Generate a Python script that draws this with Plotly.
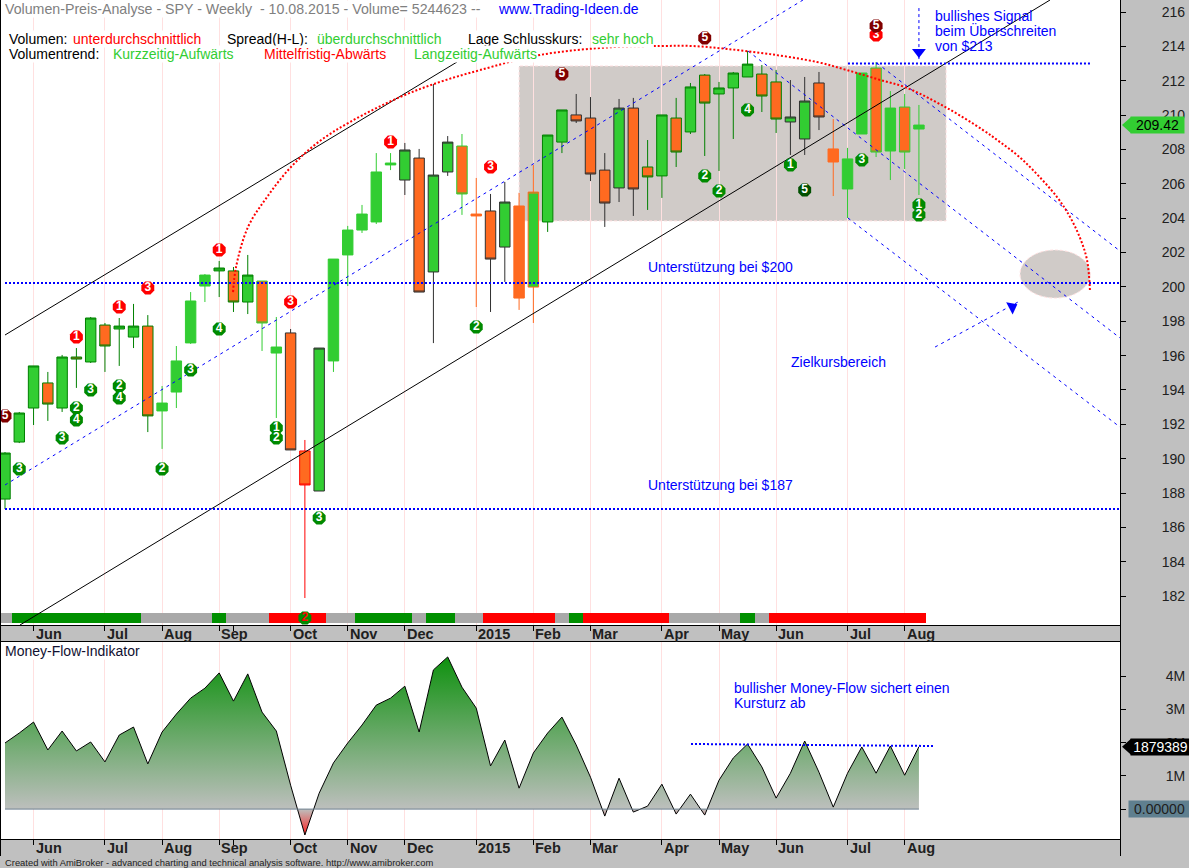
# SPY weekly chart - volume / price analysis with money flow panel

import plotly.graph_objects as go

W = 1189
H = 868

# WEEKLY BARS #
opens = [187.65, 190.97, 192.95, 194.41, 192.95, 195.92, 195.63, 197.78, 197.55, 197.08, 197.72, 192.78, 193.88, 196.74, 200.05, 200.93, 200.93, 199.12, 200.34, 196.15, 197.32, 190.45, 188.12, 195.69, 201.86, 203.31, 203.78, 207.10, 206.22, 207.50, 200.87, 206.69, 208.20, 204.24, 204.42, 202.32, 204.71, 199.99, 203.78, 208.43, 210.01, 209.83, 206.80, 205.76, 210.41, 206.98, 206.46, 209.83, 209.02, 212.33, 211.23, 211.58, 212.22, 212.39, 211.93, 209.60, 208.61, 211.87, 208.03, 205.70, 208.90, 212.74, 207.91, 210.47, 209.19]
closes = [190.33, 192.66, 195.40, 193.18, 195.92, 195.80, 198.19, 196.56, 197.72, 197.72, 192.49, 193.24, 195.69, 199.18, 200.69, 201.10, 199.12, 200.69, 197.90, 196.50, 190.51, 188.47, 196.44, 201.62, 203.31, 204.24, 206.69, 207.21, 207.97, 199.70, 206.51, 208.43, 205.41, 204.13, 201.62, 204.94, 199.35, 205.52, 208.84, 210.30, 209.66, 206.57, 204.88, 210.41, 205.70, 206.40, 210.01, 207.85, 211.64, 210.70, 211.58, 212.45, 212.97, 211.11, 209.77, 209.89, 210.82, 209.89, 207.27, 207.45, 212.45, 207.85, 210.41, 207.85, 209.42]
highs = [190.39, 192.72, 195.40, 195.05, 196.04, 196.44, 198.25, 197.90, 198.19, 199.01, 198.36, 194.23, 196.56, 199.70, 200.75, 201.51, 201.16, 201.86, 200.34, 198.25, 197.55, 191.09, 196.44, 201.62, 203.55, 204.77, 207.79, 207.79, 208.38, 208.03, 211.81, 208.78, 208.90, 206.34, 205.41, 206.11, 205.47, 207.10, 208.84, 210.30, 211.23, 211.05, 207.79, 210.94, 211.00, 208.55, 210.01, 211.00, 211.87, 212.39, 211.93, 212.51, 213.73, 212.92, 212.63, 212.04, 212.22, 212.51, 209.77, 208.09, 212.45, 213.09, 211.40, 211.23, 210.59]
lows = [187.07, 190.91, 191.96, 192.20, 192.72, 194.12, 195.57, 195.05, 195.40, 196.44, 191.55, 190.57, 192.95, 196.68, 199.12, 199.41, 198.54, 198.42, 196.27, 192.37, 190.51, 181.89, 188.12, 195.05, 200.05, 203.14, 203.66, 206.80, 205.35, 199.70, 196.73, 206.46, 204.19, 198.83, 198.54, 200.29, 198.66, 197.90, 203.20, 207.79, 209.54, 206.16, 203.49, 204.94, 204.13, 204.48, 205.18, 206.98, 208.90, 207.62, 206.75, 208.61, 212.22, 210.18, 208.96, 207.68, 207.68, 209.13, 205.29, 204.01, 208.90, 207.56, 206.22, 206.86, 205.35]
# outline of each candle: g dark green, l light green, k black, r red, o orange
edges = list("ggggggggggg" "llll" "ggg" "ll" "k" "r" "k" "lllll" "kkkk" "l" "o" "kk" "oo" "gg" "kkkkk" "gggggggggg" "kkk" "o" "llllll")

# ribbon state under the price panel
ribbon = list("a" "ggggggggg" "aaaaa" "g" "aaa" "rrrr" "aa" "gggg" "a" "gg" "aa" "rrrrr" "a" "g" "rrrrrr" "aaaaa" "g" "a" "rrrrrrrrrrr")

# MONEY FLOW in millions #
money_flow = [1.99, 2.29, 2.62, 1.78, 2.35, 1.75, 2.02, 1.42, 2.23, 2.47, 1.36, 2.32, 2.86, 3.34, 3.64, 4.10, 3.25, 4.07, 2.92, 2.35, 0.72, -0.78, 0.48, 1.39, 1.99, 2.53, 3.13, 3.34, 3.70, 2.32, 4.19, 4.58, 3.67, 3.04, 1.30, 2.08, 0.63, 1.69, 2.29, 2.77, 1.93, 0.96, -0.21, 0.93, -0.09, 0.09, 0.75, -0.15, 0.45, -0.18, 0.87, 1.54, 1.96, 1.27, 0.33, 1.08, 2.05, 1.11, 0.06, 1.08, 1.87, 1.08, 1.90, 1.02, 1.879389]

# TIME AXIS #
month_ticks = [2, 7, 11, 15, 20, 24, 28, 33, 37, 41, 46, 50, 54, 59, 63]
month_names = ["Jun", "Jul", "Aug", "Sep", "Oct", "Nov", "Dec", "2015", "Feb", "Mar", "Apr", "May", "Jun", "Jul", "Aug"]
price_ticks = [182, 184, 186, 188, 190, 192, 194, 196, 198, 200, 202, 204, 206, 208, 210, 212, 214, 216]
flow_ticks = [0, 1, 2, 3, 4]
flow_labels = ["", "1M", "2M", "3M", "4M"]

# DRAWN LINES, weeks / dollars #
upper_x, upper_y = [0, 31.65], [197.20, 213.09]
lower_x, lower_y = [1.05, 73.18], [180.32, 216.70]
mid_x, mid_y = [0, 55.88], [188.47, 216.70]
down1_x, down1_y = [52.03, 78.08], [213.73, 197.03]
down2_x, down2_y = [61.06, 78.08], [213.03, 202.09]
down3_x, down3_y = [59.03, 78.08], [204.01, 191.84]
support_200 = 200.23
support_187 = 187.07
resist_x, resist_y = [59.03, 76.0], [213.0, 213.0]
flow_line_x, flow_line_y = [48.04, 65.0], [1.96, 1.90]
arc_x = [15.97, 16.18, 17.02, 18.35, 19.96, 21.85, 24.16, 27.66, 30.46, 33.26, 37.46, 42.58, 45.87, 48.18, 50.56, 53.57, 56.86, 58.96, 61.06, 63.17, 65.97, 68.49, 69.68, 70.87, 71.99, 73.67, 74.58, 75.28, 75.77, 75.98]
arc_y = [199.70, 201.16, 203.49, 205.23, 206.92, 208.37, 209.60, 211.05, 211.93, 212.62, 213.50, 213.96, 214.02, 214.02, 213.85, 213.55, 213.09, 212.62, 212.10, 211.58, 210.41, 209.13, 208.43, 207.68, 206.80, 205.23, 204.07, 202.85, 201.57, 199.70]

# NUMBERED SIGNALS #
signals = {
    "#FF0000": (
        [5, 8, 15, 27, 10, 20, 34, 61],
        [197.08, 198.83, 202.15, 208.43, 199.94, 199.12, 206.98, 214.66],
        ["1", "1", "1", "1", "3", "3", "3", "3"],
    ),
    "#800000": ([0, 39, 49, 61], [192.49, 212.39, 214.49, 215.19], ["5", "5", "5", "5"]),
    "#008A00": (
        [19, 55, 64, 5, 8, 11, 19, 33, 49, 50, 64, 1, 4, 6, 13, 22, 60, 5, 8, 15, 52],
        [191.79, 207.10, 204.77, 192.95, 194.23, 189.40, 191.21, 197.67, 206.46, 205.58, 204.19, 189.40, 191.21, 194.00, 195.16, 186.55, 207.39, 192.25, 193.53, 197.55, 210.30],
        ["1", "1", "1", "2", "2", "2", "2", "2", "2", "2", "2", "3", "3", "3", "3", "3", "3", "4", "4", "4", "4"],
    ),
    "#005000": ([56], [205.64], ["5"]),
}

GREEN = "#32CD32"
ORANGE = "#FF6A20"
BLUE = "#0000FF"
PINK = "#FFE0E0"
BOX = "#D0CBC8"
FONT = "Liberation Sans"
EDGE_COLORS = {"g": "#008000", "l": GREEN, "k": "#303030", "r": "#FF0000", "o": ORANGE}
RIBBON_COLORS = {"a": "#A9A9A9", "g": "#009000", "r": "#FF0000"}


def px(x):
    return x / W


def py(y):
    return 1 - y / H


weeks = list(range(len(closes)))
fig = go.Figure()

# ribbon sits in the price panel, below the candles
fig.add_trace(
    go.Bar(
        x=weeks,
        y=[0.58] * len(weeks),
        base=180.44,
        width=1,
        marker={"color": [RIBBON_COLORS[r] for r in ribbon], "line": {"width": 0}},
    )
)

for key, color in EDGE_COLORS.items():
    idx = [i for i in weeks if edges[i] == key]
    fig.add_trace(
        go.Candlestick(
            x=idx,
            open=[opens[i] for i in idx],
            high=[highs[i] for i in idx],
            low=[lows[i] for i in idx],
            close=[closes[i] for i in idx],
            increasing={"fillcolor": GREEN, "line": {"color": color, "width": 1}},
            decreasing={"fillcolor": ORANGE, "line": {"color": color, "width": 1}},
        )
    )


def add_line(x, y, color, width=1, dash="solid", xaxis="x", yaxis="y", shape="linear"):
    fig.add_trace(
        go.Scatter(
            x=x,
            y=y,
            mode="lines",
            line={"color": color, "width": width, "dash": dash, "shape": shape},
            xaxis=xaxis,
            yaxis=yaxis,
        )
    )


add_line(upper_x, upper_y, "black")
add_line(lower_x, lower_y, "black")
add_line(mid_x, mid_y, BLUE, dash="3px,4px")
add_line(down1_x, down1_y, BLUE, dash="3px,4px")
add_line(down2_x, down2_y, BLUE, dash="3px,4px")
add_line(down3_x, down3_y, BLUE, dash="3px,4px")
add_line([0, 78.08], [support_200, support_200], BLUE, 2, "2px,2px")
add_line([0, 78.08], [support_187, support_187], BLUE, 2, "2px,2px")
add_line(resist_x, resist_y, BLUE, 2, "2px,2px")
add_line(arc_x, arc_y, "#FF0000", 2, "2px,2px", shape="spline")

# arrows
add_line([64, 64], [216.23, 213.2], BLUE, dash="3px,3px")
add_line([65.13, 70.94], [196.50, 199.12], BLUE, dash="3px,4px")
for ax, ay, angle in [(64, 213.67, 180), (70.52, 198.83, 62)]:
    fig.add_trace(
        go.Scatter(
            x=[ax],
            y=[ay],
            mode="markers",
            marker={"symbol": "triangle-up", "size": 12, "color": BLUE, "angle": angle},
        )
    )

for color, (sx, sy, digits) in signals.items():
    fig.add_trace(
        go.Scatter(
            x=sx,
            y=sy,
            text=digits,
            mode="markers+text",
            textposition="middle center",
            marker={"symbol": "octagon", "size": 14, "color": color},
            textfont={"family": FONT, "size": 12, "color": "white", "weight": "bold"},
        )
    )
# the 2 on the ribbon has a red digit
fig.add_trace(
    go.Scatter(
        x=[21],
        y=[180.73],
        text=["2"],
        mode="markers+text",
        textposition="middle center",
        marker={"symbol": "octagon", "size": 14, "color": "#008A00"},
        textfont={"family": FONT, "size": 12, "color": "#FF0000", "weight": "bold"},
    )
)

# MONEY FLOW PANEL #
fig.add_trace(
    go.Scatter(
        x=weeks,
        y=money_flow,
        mode="lines",
        fill="tozeroy",
        fillgradient={
            "type": "vertical",
            "start": -0.78,
            "stop": 4.7,
            "colorscale": [[0, "#FF2020"], [0.142, "#BDBFBD"], [1, "#0A900A"]],
        },
        line={"color": "black", "width": 1},
        xaxis="x2",
        yaxis="y2",
    )
)
add_line([0, 64], [0, 0], "#6E8090", xaxis="x2", yaxis="y2")
add_line(flow_line_x, flow_line_y, BLUE, 2, "2px,2px", "x2", "y2")

shapes = [
    {
        "type": "rect",
        "xref": "x",
        "yref": "y",
        "x0": 36,
        "x1": 65.9,
        "y0": 203.84,
        "y1": 212.86,
        "fillcolor": BOX,
        "line": {"color": PINK, "width": 1, "dash": "3px,2px"},
        "layer": "below",
    },
    {
        "type": "circle",
        "xref": "x",
        "yref": "y",
        "x0": 71.08,
        "x1": 76.0,
        "y0": 199.35,
        "y1": 202.15,
        "fillcolor": BOX,
        "line": {"color": PINK, "width": 1, "dash": "3px,2px"},
        "layer": "below",
    },
]
# frame lines through the gray strips
for xp in [0.5, 1120.5]:
    shapes.append(
        {
            "type": "line",
            "xref": "paper",
            "yref": "paper",
            "x0": px(xp),
            "x1": px(xp),
            "y0": py(856),
            "y1": 1,
            "line": {"color": "black", "width": 1},
        }
    )
# pointers of the value tags
for yref, yval, half, color in [("y", 209.42, 0.47, GREEN), ("y2", 1.879389, 0.24, "black")]:
    shapes.append(
        {
            "type": "path",
            "xref": "paper",
            "yref": yref,
            "path": f"M {px(1122)},{yval} L {px(1131)},{yval + half} L {px(1131)},{yval - half} Z",
            "fillcolor": color,
            "line": {"width": 0},
            "layer": "above",
        }
    )

annotations = []


def add_text(text, x, y, color="black", size=14, bold=False, bg=None):
    annotations.append(
        {
            "text": text,
            "xref": "paper",
            "yref": "paper",
            "x": px(x),
            "y": py(y),
            "xanchor": "left",
            "yanchor": "middle",
            "showarrow": False,
            "borderpad": 0,
            "bgcolor": bg,
            "font": {"family": FONT, "size": size, "color": color, "weight": "bold" if bold else "normal"},
        }
    )


add_text("Volumen-Preis-Analyse - SPY - Weekly\u00a0\u00a0- 10.08.2015 - Volume= 5244623 --", 4, 9, "#808080", size=14.2, bg="white")
add_text("www.Trading-Ideen.de", 497, 9, BLUE, bg="white")
add_text("Volumen:", 8, 39, bg="white")
add_text("unterdurchschnittlich", 72, 39, "#FF0000", bg="white")
add_text("Spread(H-L):", 226, 39, bg="white")
add_text("überdurchschnittlich", 316, 39, GREEN, bg="white")
add_text("Lage Schlusskurs:", 467, 39, bg="white")
add_text("sehr hoch", 591, 39, GREEN, bg="white")
add_text("Volumentrend:", 8, 54, bg="white")
add_text("Kurzzeitig-Aufwärts", 112, 54, GREEN, bg="white")
add_text("Mittelfristig-Abwärts", 263, 54, "#FF0000", bg="white")
add_text("Langzeitig-Aufwärts", 413, 54, GREEN, bg="white")
add_text("bullishes Signal", 934, 16, BLUE)
add_text("beim Überschreiten", 934, 31, BLUE)
add_text("von $213", 934, 46, BLUE)
add_text("Unterstützung bei $200", 647, 267, BLUE)
add_text("Unterstützung bei $187", 647, 485, BLUE)
add_text("Zielkursbereich", 790, 362, BLUE)
add_text("Money-Flow-Indikator", 4, 651, "#101030", bg="white")
add_text("bullisher Money-Flow sichert einen", 733, 688, BLUE)
add_text("Kursturz ab", 733, 703, BLUE)
add_text("Created with AmiBroker - advanced charting and technical analysis software. http://www.amibroker.com", 4, 862, "#202020", size=9.4)

# month labels start just right of their tick
for tick, name in zip(month_ticks, month_names):
    for y in [634, 848]:
        annotations.append(
            {
                "text": name,
                "xref": "x",
                "yref": "paper",
                "x": tick,
                "xshift": 1,
                "y": py(y),
                "xanchor": "left",
                "yanchor": "middle",
                "showarrow": False,
                "borderpad": 0,
                "font": {"family": FONT, "size": 14.5, "color": "#202020", "weight": "bold"},
            }
        )

# value tags at the right
tag_common = {"xref": "paper", "xanchor": "left", "yanchor": "middle", "showarrow": False, "borderpad": 0, "height": 16}
annotations.append(
    {**tag_common, "text": "209.42", "x": px(1130), "y": 209.42, "yref": "y", "width": 53, "bgcolor": GREEN, "font": {"family": FONT, "size": 14, "color": "black"}}
)
annotations.append(
    {**tag_common, "text": "1879389", "x": px(1130), "y": 1.879389, "yref": "y2", "width": 59, "bgcolor": "black", "font": {"family": FONT, "size": 14, "color": "white"}}
)
annotations.append(
    {**tag_common, "text": "0.00000", "x": px(1128), "y": 0, "yref": "y2", "width": 61, "bgcolor": "#5F7F8F", "font": {"family": FONT, "size": 14, "color": "#202020"}}
)

x_common = {
    "range": [-0.35, 78.08],
    "domain": [0, 1120 / W],
    "tickmode": "array",
    "tickvals": month_ticks,
    "showticklabels": False,
    "showgrid": True,
    "gridcolor": PINK,
    "gridwidth": 1,
    "ticks": "outside",
    "ticklen": 5,
    "tickcolor": "black",
    "showline": True,
    "linecolor": "black",
    "linewidth": 1,
    "mirror": True,
    "zeroline": False,
    "rangeslider": {"visible": False},
    "minor": {"tickvals": [16], "ticks": "outside", "ticklen": 5, "tickcolor": "black", "showgrid": False},
}
y_common = {
    "side": "right",
    "showgrid": False,
    "zeroline": False,
    "ticks": "outside",
    "ticklen": 5,
    "tickcolor": "black",
    "tickfont": {"family": FONT, "size": 14, "color": "#202020"},
    "tickmode": "array",
}

fig.update_layout(
    width=W,
    height=H,
    margin={"l": 0, "r": 0, "t": 0, "b": 0},
    paper_bgcolor="#C0C0C0",
    plot_bgcolor="white",
    showlegend=False,
    boxgap=0.27,
    boxgroupgap=0,
    bargap=0,
    hovermode=False,
    font={"family": FONT},
    xaxis=x_common,
    xaxis2={**x_common, "anchor": "y2"},
    yaxis={
        **y_common,
        "range": [180.32, 216.70],
        "domain": [py(625), 1],
        "tickvals": price_ticks,
        "ticklabelstandoff": 33,
    },
    yaxis2={
        **y_common,
        "range": [-0.90, 5.03],
        "domain": [py(839), py(642)],
        "anchor": "x2",
        "tickvals": flow_ticks,
        "ticktext": flow_labels,
        "ticklabelstandoff": 37,
    },
    shapes=shapes,
    annotations=annotations,
)

fig.write_html(
    "out.html",
    config={"displayModeBar": False},
    post_script="document.body.style.margin='0';document.documentElement.style.overflow='hidden';",
)
